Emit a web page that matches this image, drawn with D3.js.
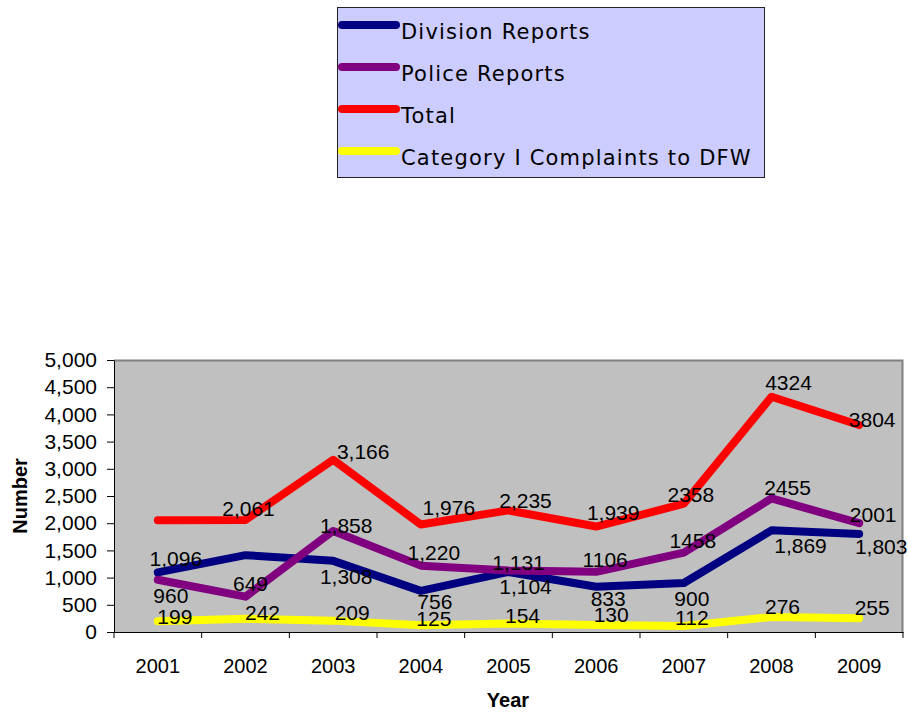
<!DOCTYPE html>
<html>
<head>
<meta charset="utf-8">
<script src="https://cdn.jsdelivr.net/npm/d3@7"></script>
<style>
    body { margin: 0; background: #fff; }
    text { font-family: Arial, "Liberation Sans", sans-serif; fill: #000; }
    .axis path, .axis line { stroke: #000; }
    .legend text { font-family: "DejaVu Sans", Verdana, sans-serif; font-size: 21px; letter-spacing: 1.2px; }
</style>
</head>
<body>
<svg id="chart"></svg>
<script>
// data
const years = ['2001', '2002', '2003', '2004', '2005', '2006', '2007', '2008', '2009'];
const divisionReports = [1096, 1412, 1308, 756, 1104, 833, 900, 1869, 1803];
const policeReports = [960, 649, 1858, 1220, 1131, 1106, 1458, 2455, 2001];
const totalReports = [2056, 2061, 3166, 1976, 2235, 1939, 2358, 4324, 3804];
const categoryOneComplaints = [199, 242, 209, 125, 154, 130, 112, 276, 255];

// labels as they appear on the chart (null = no label shown)
const divisionLabels = ['1,096', null, '1,308', '756', '1,104', '833', '900', '1,869', '1,803'];
const policeLabels = ['960', '649', '1,858', '1,220', '1,131', '1106', '1458', '2455', '2001'];
const totalLabels = [null, '2,061', '3,166', '1,976', '2,235', '1,939', '2358', '4324', '3804'];
const categoryLabels = ['199', '242', '209', '125', '154', '130', '112', '276', '255'];

const seriesNames = ['Division Reports', 'Police Reports', 'Total', 'Category I Complaints to DFW'];
const seriesColors = ['#000080', '#800080', '#ff0000', '#ffff00'];
const yTicks = [0, 500, 1000, 1500, 2000, 2500, 3000, 3500, 4000, 4500, 5000];

// label offsets from the point (label centre), picked by eye
const divisionOffsets = [[18, -14], null, [13, 16], [14, 11], [17, 14], [12, 12], [8, 15], [29, 15], [22, 13]];
const policeOffsets = [[13, 16], [5, -13], [13, -5], [13, -13], [10, -8], [9, -12], [9, -12], [16, -11], [14, -9]];
const totalOffsets = [null, [3, -11], [30, -8], [28, -17], [17, -10], [17, -14], [7, -9], [17, -14], [13, -6]];
const categoryOffsets = [[17, -5], [17, -6], [19, -8], [13, -7], [14, -8], [15, -10], [8, -8], [11, -11], [13, -11]];

const series = [
    {name: seriesNames[0], color: seriesColors[0], values: divisionReports, labels: divisionLabels, offsets: divisionOffsets},
    {name: seriesNames[1], color: seriesColors[1], values: policeReports, labels: policeLabels, offsets: policeOffsets},
    {name: seriesNames[2], color: seriesColors[2], values: totalReports, labels: totalLabels, offsets: totalOffsets},
    {name: seriesNames[3], color: seriesColors[3], values: categoryOneComplaints, labels: categoryLabels, offsets: categoryOffsets}
];

const width = 908, height = 715;
const margin = {top: 360, right: 5, bottom: 83, left: 114};
const innerW = width - margin.left - margin.right;
const innerH = height - margin.top - margin.bottom;

const svg = d3.select('#chart')
    .attr('width', width)
    .attr('height', height);

// Legend
const legend = svg.append('g').attr('class', 'legend');
legend.append('rect')
    .attr('x', 337.5).attr('y', 7.5)
    .attr('width', 427).attr('height', 170)
    .attr('fill', '#ccccff')
    .attr('stroke', '#222')
    .attr('stroke-width', 1);

const legendY = d3.scalePoint()
    .domain(seriesNames)
    .range([25, 151]);

const legendItems = legend.selectAll('g.item')
    .data(series)
    .join('g')
    .attr('class', 'item')
    .attr('transform', d => `translate(0,${legendY(d.name)})`);

legendItems.append('line')
    .attr('x1', 342).attr('x2', 396)
    .attr('stroke', d => d.color)
    .attr('stroke-width', 8)
    .attr('stroke-linecap', 'round');

legendItems.append('text')
    .attr('x', 401)
    .attr('y', 13.5)
    .text(d => d.name);

// Plot
const g = svg.append('g')
    .attr('transform', `translate(${margin.left},${margin.top})`);

const x = d3.scaleBand()
    .domain(years)
    .range([0, innerW]);

const y = d3.scaleLinear()
    .domain([0, 5000])
    .range([innerH, 0]);

g.append('rect')
    .attr('width', innerW)
    .attr('height', innerH)
    .attr('fill', '#c0c0c0');

// top and right frame
g.append('path')
    .attr('d', `M0,0.5H${innerW - 0.5}V${innerH}`)
    .attr('fill', 'none')
    .attr('stroke', '#808080')
    .attr('stroke-width', 2);

// y axis
const yAxis = d3.axisLeft(y)
    .tickValues(yTicks)
    .tickFormat(d3.format(','))
    .tickSizeInner(7)
    .tickSizeOuter(0)
    .tickPadding(10);

g.append('g')
    .attr('class', 'axis y-axis')
    .call(yAxis)
    .call(s => s.selectAll('text').attr('font-size', 21).attr('font-family', null));

// x axis: labels centred on bands, ticks on band edges
const xAxis = d3.axisBottom(x)
    .tickSizeInner(0)
    .tickSizeOuter(0)
    .tickPadding(27);

const xAxisG = g.append('g')
    .attr('class', 'axis x-axis')
    .attr('transform', `translate(0,${innerH})`)
    .call(xAxis)
    .call(s => s.selectAll('text').attr('font-size', 20).attr('font-family', null));

xAxisG.selectAll('line.edge')
    .data(years.map(d => x(d)).concat([innerW]))
    .join('line')
    .attr('class', 'edge')
    .attr('x1', d => d).attr('x2', d => d)
    .attr('y1', 0).attr('y2', 6)
    .attr('stroke', '#000');

// lines
const line = d3.line()
    .x((d, i) => x(years[i]) + x.bandwidth() / 2)
    .y(d => y(d));

g.selectAll('path.series')
    .data(series)
    .join('path')
    .attr('class', 'series')
    .attr('d', d => line(d.values))
    .attr('fill', 'none')
    .attr('stroke', d => d.color)
    .attr('stroke-width', 8)
    .attr('stroke-linecap', 'round')
    .attr('stroke-linejoin', 'round');

// data labels
series.forEach(s => {
    const pts = s.values.map((v, i) => ({v: v, i: i, label: s.labels[i], off: s.offsets[i]}))
        .filter(d => d.label !== null);
    g.append('g')
        .selectAll('text')
        .data(pts)
        .join('text')
        .attr('x', d => x(years[d.i]) + x.bandwidth() / 2 + d.off[0])
        .attr('y', d => y(d.v) + d.off[1])
        .attr('dy', '0.36em')
        .attr('text-anchor', 'middle')
        .attr('font-size', 21)
        .text(d => d.label);
});

// axis titles
svg.append('text')
    .attr('transform', `translate(27,496) rotate(-90)`)
    .attr('text-anchor', 'middle')
    .attr('font-size', 20)
    .attr('font-weight', 'bold')
    .text('Number');

svg.append('text')
    .attr('x', 508)
    .attr('y', 707)
    .attr('text-anchor', 'middle')
    .attr('font-size', 20)
    .attr('font-weight', 'bold')
    .text('Year');
</script>
</body>
</html>
